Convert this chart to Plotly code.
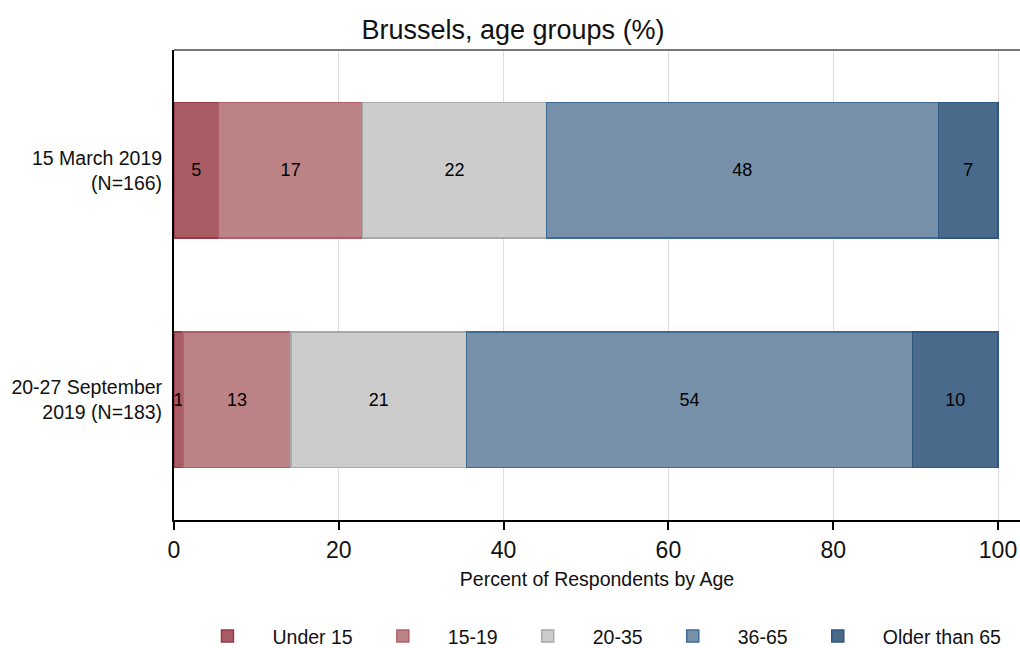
import plotly.graph_objects as go

categories = ["15 March 2019<br>(N=166)", "20-27 September<br>2019 (N=183)"]
groups = ["Under 15", "15-19", "20-35", "36-65", "Older than 65"]
# percentages per group, for [March, September]
values = {
    "Under 15": [5.42, 1.09],
    "15-19": [17.47, 13.11],
    "20-35": [22.29, 21.31],
    "36-65": [47.59, 54.10],
    "Older than 65": [7.23, 10.38],
}
fills = ["#A95C64", "#BC8387", "#CCCCCC", "#7891AA", "#4A6A8B"]
lines = ["#963A46", "#B0606A", "#A8A8A8", "#3F6A93", "#2F5782"]
xticks = [0, 20, 40, 60, 80, 100]

FONT = "Liberation Sans, Arial, sans-serif"

fig = go.Figure()
for g, fc, lc in zip(groups, fills, lines):
    v = values[g]
    fig.add_trace(go.Bar(
        y=categories, x=v, name=g, orientation="h",
        marker=dict(color=fc, line=dict(color=lc, width=1.5)),
        text=[f"{round(x):d}" for x in v],
        textposition="inside", insidetextanchor="middle",
        constraintext="none",
        textfont=dict(color="black", size=18, family=FONT),
        width=0.59,
    ))

fig.update_layout(
    barmode="stack",
    width=1020, height=648,
    margin=dict(l=174, r=0, t=50, b=128, autoexpand=False),
    paper_bgcolor="white", plot_bgcolor="white",
    font=dict(family=FONT, color="black"),
    title=dict(text="Brussels, age groups (%)", x=0.503, xanchor="center",
               yref="container", y=0.954, yanchor="middle",
               font=dict(size=27, color="#111")),
    xaxis=dict(range=[0, 102.67], tickvals=xticks, ticks="outside", ticklen=8,
               tickcolor="black", tickwidth=1.5,
               showline=True, linecolor="black", linewidth=2,
               showgrid=True, gridcolor="#DDDDDD", gridwidth=1, zeroline=False,
               tickfont=dict(size=23, color="#111"),
               title=dict(text="Percent of Respondents by Age",
                          font=dict(size=19.5, color="#111"), standoff=11)),
    yaxis=dict(autorange=False, range=[1.525, -0.525], showline=True, linecolor="black",
               linewidth=2, showgrid=False, ticks="", tickfont=dict(size=19.5, color="#111"),
               ticklabelstandoff=6),
    legend=dict(orientation="h", x=0.497, xanchor="center", xref="paper",
                yref="container", y=0.018, yanchor="middle",
                font=dict(size=19.5, color="#111"), itemwidth=80,
                traceorder="normal"),
    bargap=0.4,
)
fig.add_shape(type="line", xref="paper", yref="paper", x0=0, x1=1, y0=1, y1=1,
              line=dict(color="#777777", width=2))

fig.write_html("out.html", config={"displayModeBar": False},
               post_script="document.body.style.margin='0';")
